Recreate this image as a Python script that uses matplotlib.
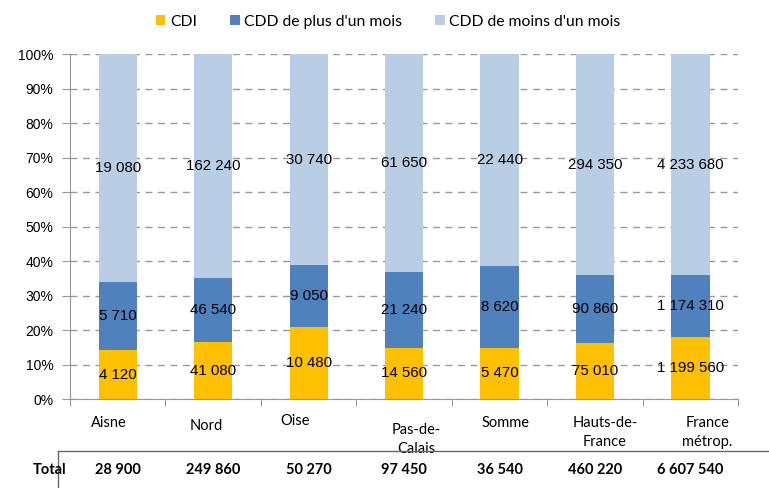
import matplotlib.pyplot as plt
import numpy as np

categories = ["Aisne", "Nord", "Oise", "Pas-de-\nCalais", "Somme", "Hauts-de-\nFrance", "France\nmétrop."]
cdi = [4120, 41080, 10480, 14560, 5470, 75010, 1199560]
cdd_plus = [5710, 46540, 9050, 21240, 8620, 90860, 1174310]
cdd_moins = [19080, 162240, 30740, 61650, 22440, 294350, 4233680]
totals = ["28 900", "249 860", "50 270", "97 450", "36 540", "460 220", "6 607 540"]
series_names = ["CDI", "CDD de plus d'un mois", "CDD de moins d'un mois"]
colors = ["#FFC000", "#4F81BD", "#B9CDE5"]


def fmt(v):
    return f"{v:,}".replace(",", " ")


fig = plt.figure(figsize=(7.69, 4.88), dpi=100)
ax = fig.add_axes([0.091, 0.182, 0.869, 0.707])

x = np.arange(len(categories))
data = np.array([cdi, cdd_plus, cdd_moins], dtype=float)
share = data / data.sum(axis=0) * 100
bottom = np.zeros(len(categories))
for i, name in enumerate(series_names):
    ax.bar(x, share[i], 0.4, bottom=bottom, color=colors[i], label=name, zorder=2)
    for j in range(len(categories)):
        ax.text(x[j], bottom[j] + share[i][j] / 2, fmt(int(data[i][j])), ha="center", va="center",
                fontsize=10.8, family="Liberation Sans", zorder=3)
    bottom += share[i]

ax.set_xlim(-0.5, len(categories) - 0.5)
ax.set_ylim(0, 100)
ax.set_yticks(np.arange(0, 101, 10))
ax.set_yticklabels([f"{v}%" for v in range(0, 101, 10)], family="Liberation Sans", fontsize=10)
ax.yaxis.grid(True, linestyle=(0, (5, 4)), color="#999999", linewidth=1, zorder=0)
ax.set_xticks(np.arange(-0.5, len(categories)))
ax.set_xticklabels([])
ax.tick_params(axis="x", length=5, color="#999999", direction="out")
ax.tick_params(axis="y", length=6, color="#999999", direction="out", pad=6)
for s in ["top", "right"]:
    ax.spines[s].set_visible(False)
for s in ["left", "bottom"]:
    ax.spines[s].set_color("#999999")

# category labels under the axis (hand-placed in the original)
dx = [-6.5, -5, -10, 8.5, 4.5, 7, 12]
dy = [0, -2, 1.5, -5, 0, 0, 0]
for j, lab in enumerate(categories):
    ax.annotate(lab, (x[j], 0), xytext=(dx[j], -12 + dy[j]), textcoords="offset points",
                ha="center", va="top", fontsize=10.5, family="Lato", linespacing=1.45)

# totals row
fig.text(50 / 769, 1 - 470 / 488, "Total", ha="center", va="center", fontsize=10.5,
         family="Lato", weight="bold")
for j, t in enumerate(totals):
    xf = ax.transData.transform((x[j], 0))[0] / fig.bbox.width
    fig.text(xf, 1 - 470 / 488, t, ha="center", va="center", fontsize=10.5,
             family="Lato", weight="bold")
fig.add_artist(plt.Line2D([58 / 769, 1], [1 - 451 / 488] * 2, color="#666666", lw=1))
fig.add_artist(plt.Line2D([58 / 769, 58 / 769], [1 - 451 / 488, 0], color="#666666", lw=1))

fig.legend(loc="center", bbox_to_anchor=(0.505, 1 - 22 / 488), ncol=3, frameon=False,
           prop={"family": "Lato", "size": 11.3}, handlelength=0.6, handleheight=0.6,
           columnspacing=2.1, handletextpad=0.3)

fig.savefig("out.png", dpi=100)
